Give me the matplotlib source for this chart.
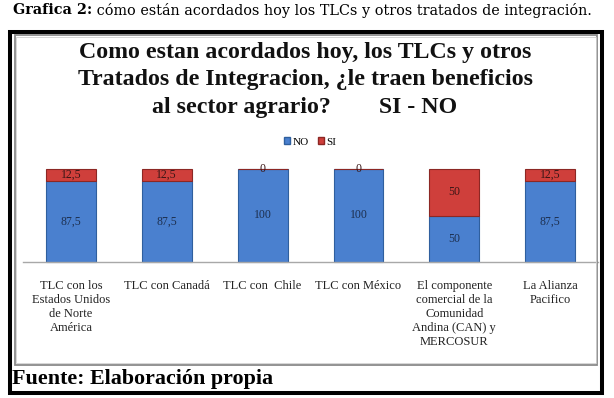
import matplotlib
matplotlib.use("Agg")
import matplotlib.pyplot as plt
from matplotlib.patches import Rectangle, Patch
import numpy as np

categories = [
    "TLC con los\nEstados Unidos\nde Norte\nAmérica",
    "TLC con Canadá",
    "TLC con  Chile",
    "TLC con México",
    "El componente\ncomercial de la\nComunidad\nAndina (CAN) y\nMERCOSUR",
    "La Alianza\nPacifico",
]
no_values = [87.5, 87.5, 100, 100, 50, 87.5]
si_values = [12.5, 12.5, 0, 0, 50, 12.5]
series_names = ["NO", "SI"]

title = ("Como estan acordados hoy, los TLCs y otros\n"
         "Tratados de Integracion, ¿le traen beneficios\n"
         "al sector agrario?        SI - NO")
caption_bold = "Grafica 2:"
caption_rest = " cómo están acordados hoy los TLCs y otros tratados de integración."
source = "Fuente: Elaboración propia"

W, H = 614, 398
fig = plt.figure(figsize=(W / 100, H / 100), dpi=100)
fig.patch.set_facecolor("white")

def fx(px):
    return px / W

def fy(py):
    return 1 - py / H

serif = ["Liberation Serif", "DejaVu Serif"]

# outer black frame and inner gray frame
fig.add_artist(Rectangle((fx(10), fy(393)), fx(602) - fx(10), fy(32) - fy(393),
                         transform=fig.transFigure, fill=False, edgecolor="black",
                         linewidth=2.9))
fig.add_artist(Rectangle((fx(14.5), fy(364.5)), fx(597) - fx(14.5), fy(35.5) - fy(364.5),
                         transform=fig.transFigure, fill=False, edgecolor="#8a8a8a",
                         linewidth=1.3))
fig.add_artist(Rectangle((fx(16), fy(363)), fx(595.5) - fx(16), fy(37) - fy(363),
                         transform=fig.transFigure, fill=False, edgecolor="#d0d0d0",
                         linewidth=0.6))

# axes
ax = fig.add_axes([fx(23), fy(262), fx(598) - fx(23), fy(169) - fy(262)])
x = np.arange(len(categories))
blue, blue_edge = "#4A80CF", "#2F5F9E"
red, red_edge = "#CF3F3B", "#8C2724"
b1 = ax.bar(x, no_values, width=0.52, color=blue, edgecolor=blue_edge, linewidth=0.8,
            label=series_names[0])
b2 = ax.bar(x, si_values, width=0.52, bottom=no_values, color=red, edgecolor=red_edge,
            linewidth=0.8, label=series_names[1])

def fmt(v):
    return f"{v:g}".replace(".", ",")

ax.bar_label(b1, labels=[fmt(v) for v in no_values], label_type="center",
             fontsize=8.5, color="#1d2f4f", family=serif)
ax.bar_label(b2, labels=[fmt(v) for v in si_values], label_type="center",
             fontsize=8.5, color="#3a1616", family=serif)

ax.set_xlim(-0.5, len(categories) - 0.5)
ax.set_ylim(0, 100)
for s in ["top", "right", "left"]:
    ax.spines[s].set_visible(False)
ax.spines["bottom"].set_color("#a8a8a8")
ax.spines["bottom"].set_linewidth(1.0)
ax.set_yticks([])
ax.set_xticks(x)
ax.set_xticklabels(categories, fontsize=9, family=serif, color="#222222",
                   linespacing=1.22, va="top")
ax.tick_params(axis="x", length=0, pad=13)
ax.patch.set_alpha(0)
for b in list(b1) + list(b2):
    b.set_clip_on(False)

# title
fig.text(fx(305), fy(80), title, ha="center", va="center", fontsize=17.2,
         fontweight="bold", family=serif, linespacing=1.38, color="#111111")

# legend
leg = fig.legend(handles=[Patch(facecolor=blue, edgecolor=blue_edge, label="NO"),
                          Patch(facecolor=red, edgecolor=red_edge, label="SI")],
                 loc="center", bbox_to_anchor=(fx(310), fy(142)), ncol=2, frameon=False,
                 prop={"family": serif, "size": 8}, handlelength=0.55, handleheight=0.55,
                 handletextpad=0.2, columnspacing=0.8)

# caption
renderer = fig.canvas.get_renderer()
t1 = fig.text(fx(13), fy(10), caption_bold, ha="left", va="center", fontsize=10.4,
              fontweight="bold", family=["DejaVu Serif"])
bb = t1.get_window_extent(renderer)
t2 = fig.text(bb.x1 / W, fy(10), caption_rest, ha="left", va="center", fontsize=10.4,
              family=["DejaVu Serif"])

# source
fig.text(fx(12), fy(379), source, ha="left", va="center", fontsize=15.8,
         fontweight="bold", family=serif)

fig.savefig("out.png", dpi=100, facecolor="white")
